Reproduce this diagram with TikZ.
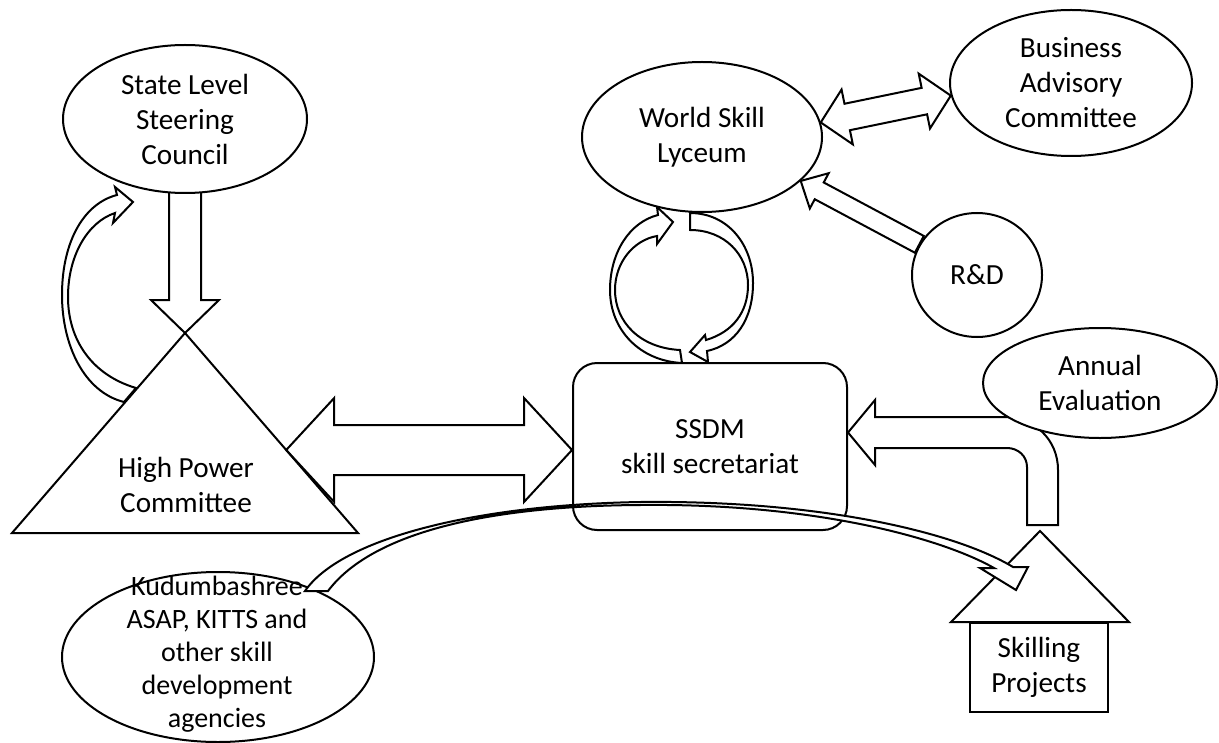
\documentclass[tikz,border=0pt]{standalone}
\usepackage{fontspec}
\setmainfont{Carlito}
\usetikzlibrary{
	calc,
	shapes.geometric,
	backgrounds,
}

\tikzset{
	box/.style={draw,line width=1pt,fill=white,inner sep=0pt,align=center,font=\fontsize{14.6pt}{17.5pt}\selectfont},
	oval/.style={box,ellipse},
	blabel/.style={align=center,inner sep=0pt,font=\fontsize{14.6pt}{17.5pt}\selectfont},
	blockarrow/.style={draw,line width=1pt,fill=white,line join=miter},
}

\newcommand{\barrow}[5]{%
	\coordinate (ba-h) at ($(#2)!#5!(#1)$);
	\filldraw[blockarrow] ($(#1)!#3!90:(#2)$) -- ($(ba-h)!#3!90:(#2)$) -- ($(ba-h)!#4!90:(#2)$) -- (#2)
		-- ($(ba-h)!#4!-90:(#2)$) -- ($(ba-h)!#3!-90:(#2)$) -- ($(#1)!#3!-90:(#2)$) -- cycle;
}
\newcommand{\dbarrow}[5]{%
	\coordinate (ba-a) at ($(#1)!#5!(#2)$);
	\coordinate (ba-b) at ($(#2)!#5!(#1)$);
	\filldraw[blockarrow] (#1) -- ($(ba-a)!#4!90:(#2)$) -- ($(ba-a)!#3!90:(#2)$) -- ($(ba-b)!#3!90:(#2)$)
		-- ($(ba-b)!#4!90:(#2)$) -- (#2) -- ($(ba-b)!#4!-90:(#2)$) -- ($(ba-b)!#3!-90:(#2)$)
		-- ($(ba-a)!#3!-90:(#2)$) -- ($(ba-a)!#4!-90:(#2)$) -- cycle;
}

\begin{document}
\begin{tikzpicture}[x=0.5pt,y=-0.5pt]
\useasboundingbox (0,0) rectangle (1219,743);

\node[oval,minimum width=122pt,minimum height=74pt] (slsc) at (185,119) {State Level\\Steering\\Council};
\node[oval,minimum width=120pt,minimum height=75pt] (wsl) at (702,137) {World Skill\\Lyceum};
\node[oval,minimum width=121pt,minimum height=73pt] (bac) at (1071,83) {Business\\Advisory\\Committee};
\node[oval,minimum width=65pt,minimum height=62pt] (rd) at (977,275) {R\&D};
\node[oval,minimum width=117pt,minimum height=55pt] (eval) at (1100,383) {Annual\\Evaluation};
\node[box,rounded corners=12pt,minimum width=137pt,minimum height=83.5pt] (ssdm) at (710,446.5) {SSDM\\skill secretariat};
\node[oval,minimum width=156pt,minimum height=85pt] (kud) at (218,657) {};
\node[blabel,font=\fontsize{14pt}{16.5pt}\selectfont] (kudtext) at (217,654) {Kudumbashree\\ASAP, KITTS and\\other skill\\development\\agencies};
\node[box,minimum width=69pt,minimum height=44.5pt] (sp) at (1039,667.5) {Skilling\\Projects};
\filldraw[blockarrow] ($(sp.north west)+(-18,0)$) -- ($(sp.north)+(1,-91)$) -- ($(sp.north east)+(20,0)$) -- cycle;

\coordinate (hpcT) at (185,333);
\coordinate (hpcL) at (12,533);
\coordinate (hpcR) at (358,533);
\draw[line width=1pt,line join=miter] (hpcT) -- (hpcL) -- (hpcR) -- cycle;
\node[blabel] (hpc) at (186,485) {High Power\\Committee};

\begin{pgfonlayer}{background}
	\coordinate (sd) at ($(slsc.south)+(0,-5)$);
	\barrow{sd}{hpcT}{8pt}{17pt}{16.5pt}
	\coordinate (hs1) at ($(hpcT)!0.585!(hpcR)$);
	\coordinate (hs2) at (ssdm.west |- hs1);
	\dbarrow{hs1}{hs2}{12.5pt}{26pt}{24pt}
	\dbarrow{wsl.7}{bac.186}{6.75pt}{14pt}{13.5pt}
	\barrow{rd.152}{wsl.-24}{4.75pt}{10pt}{10.5pt}
	\filldraw[blockarrow] (124,402) .. controls (84,392) and (62,345) .. (62,295) .. controls (62,240) and (85,203) .. (117,195)
		-- (115,187) -- (133,202) -- (113,223) -- (115,213)
		.. controls (88,222) and (68,255) .. (68,297) .. controls (68,340) and (92,375) .. (136,388) -- cycle;
	\filldraw[blockarrow] (682,363) .. controls (640,361) and (610,330) .. (610,290) .. controls (610,252) and (630,222) .. (658,215)
		-- (657,207) -- (673,222) -- (657,244) -- (657,236)
		.. controls (634,240) and (615,262) .. (615,290) .. controls (615,322) and (640,348) .. (680,350) -- cycle;
	\filldraw[blockarrow] (690,213) .. controls (728,213) and (753,245) .. (753,283) .. controls (753,320) and (735,345) .. (707,351)
		-- (708,362) -- (690,352) -- (705,335) -- (706,340)
		.. controls (733,332) and (748,312) .. (748,285) .. controls (748,255) and (725,230) .. (690,230) -- cycle;
	\filldraw[blockarrow] (1058,525) -- (1058,470) .. controls (1058,440) and (1035,417) .. (1003,417) -- (875,417) -- (875,400)
		-- ($(ssdm.east)+(0,-14)$) -- (875,465) -- (875,448) -- (1007,448) .. controls (1018,448) and (1027,456) .. (1027,467)
		-- (1027,525) -- cycle;
\end{pgfonlayer}

\filldraw[blockarrow] (305,591) .. controls (340,540) and (470,505) .. (640,502) .. controls (820,500) and (955,532) .. (1013,567)
	-- (1028,567) -- (1016,590) -- (980,568) -- (994,568)
	.. controls (945,540) and (820,503) .. (640,505) .. controls (480,506) and (370,535) .. (328,591) -- cycle;
\end{tikzpicture}
\end{document}
